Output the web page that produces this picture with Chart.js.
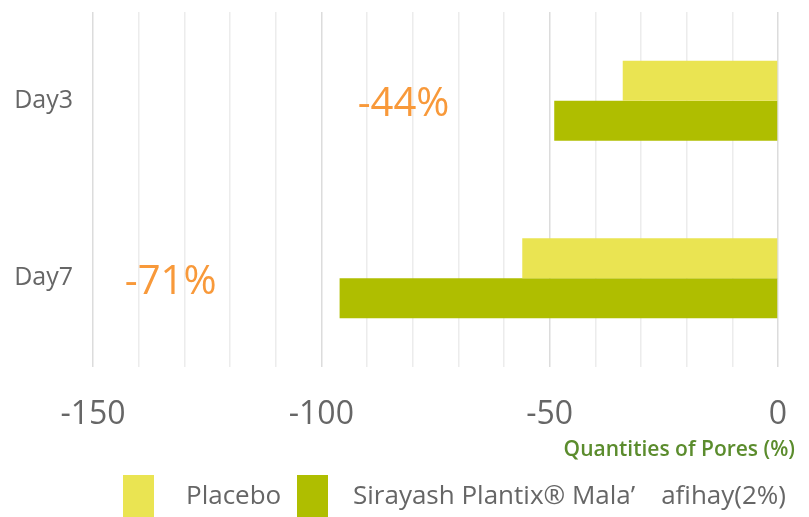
<!DOCTYPE html>
<html>
<head>
<meta charset="utf-8">
<script src="https://cdn.jsdelivr.net/npm/chart.js@4"></script>
<style>
  html, body { margin: 0; padding: 0; background: #fff; }
  #wrap { width: 809px; height: 517px; position: relative; }
</style>
</head>
<body>
<div id="wrap"><canvas id="chart"></canvas></div>
<script>
const days = ['Day3', 'Day7'];
const placebo = [-34, -56];
const sirayash = [-49, -96];
const reductions = ['-44%', '-71%'];
const seriesNames = ['Placebo', 'Sirayash Plantix® Mala’\u2003afihay(2%)'];
const axisTitle = 'Quantities of Pores (%)';

const FONT = '"Open Sans", "Noto Sans", sans-serif';
const colors = ['#eae452', '#afbe00'];

// draws the orange reduction labels, the right-aligned axis title and the legend
const extras = {
  id: 'extras',
  afterDraw(chart, args, opts) {
    const ctx = chart.ctx;
    const xs = chart.scales.x, ys = chart.scales.y;
    ctx.save();
    ctx.font = '40px ' + FONT;
    ctx.fillStyle = '#f8993a';
    ctx.textAlign = 'center';
    ctx.textBaseline = 'middle';
    reductions.forEach((t, i) => {
      ctx.fillText(t, xs.getPixelForValue(opts.labelAt[i]), ys.getPixelForValue(i) + 4);
    });
    ctx.font = '600 21px ' + FONT;
    ctx.fillStyle = '#5b8c2d';
    ctx.textAlign = 'right';
    ctx.fillText(axisTitle, 795, 450);
    ctx.font = '26px ' + FONT;
    ctx.textAlign = 'left';
    chart.data.datasets.forEach((ds, i) => {
      const x = opts.legendX[i];
      ctx.fillStyle = ds.backgroundColor;
      ctx.fillRect(x, 475, 31, 45);
      ctx.fillStyle = '#666';
      ctx.fillText(ds.label, x + opts.legendGap[i], 497);
    });
    ctx.restore();
  }
};

new Chart(document.getElementById('chart'), {
  type: 'bar',
  data: {
    labels: days,
    datasets: [
      { label: seriesNames[0], data: placebo, backgroundColor: colors[0] },
      { label: seriesNames[1], data: sirayash, backgroundColor: colors[1] }
    ]
  },
  options: {
    indexAxis: 'y',
    responsive: true,
    maintainAspectRatio: false,
    animation: false,
    layout: { padding: { left: 0, right: 31, top: 12, bottom: 0 } },
    datasets: { bar: { categoryPercentage: 0.45, barPercentage: 1 } },
    plugins: {
      legend: { display: false },
      tooltip: { enabled: false },
      extras: { labelAt: [-82, -133], legendX: [123, 297], legendGap: [63, 56] }
    },
    scales: {
      x: {
        min: -150, max: 0,
        afterFit(s) { s.height = 150; s.paddingLeft = 0; s.paddingRight = 0; },
        border: { display: false },
        grid: {
          drawTicks: false,
          lineWidth: 1.5,
          color: c => (c.tick && c.tick.value % 50 === 0) ? '#dcdcdc' : '#ececec'
        },
        ticks: {
          stepSize: 10,
          autoSkip: false,
          maxRotation: 0,
          padding: 29,
          color: '#666',
          font: { family: FONT, size: 32 },
          callback: v => (v % 50 === 0 ? v : '')
        }
      },
      y: {
        afterFit(s) { s.width = 93; s.paddingTop = 0; s.paddingBottom = 0; },
        border: { display: false },
        grid: { display: false, drawTicks: false },
        ticks: {
          padding: 20,
          color: '#666',
          font: { family: FONT, size: 25 }
        }
      }
    }
  },
  plugins: [extras]
});
</script>
</body>
</html>
